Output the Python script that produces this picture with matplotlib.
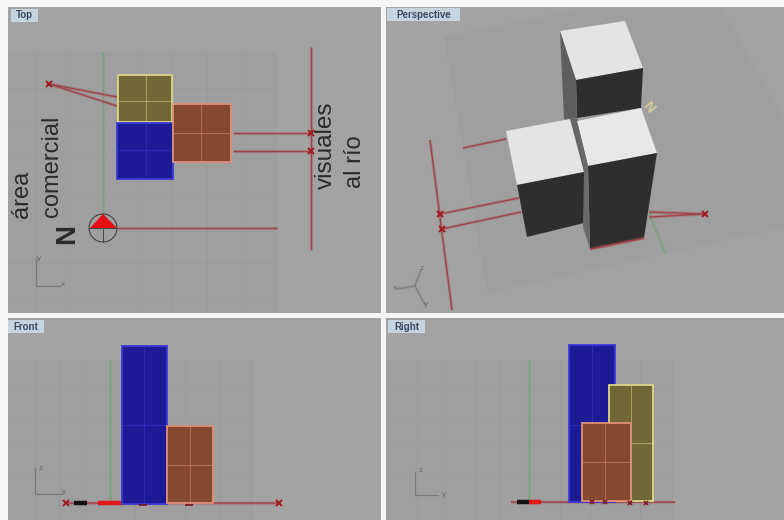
import matplotlib
matplotlib.use("Agg")
import matplotlib.pyplot as plt
from matplotlib.patches import Rectangle, Polygon, Circle
import matplotlib.patheffects as pe

plt.rcParams['font.family'] = ['Liberation Sans', 'DejaVu Sans']

BG = '#a3a3a3'; PLANE = '#9f9f9f'; GRID = '#9a9a9a'; RED = '#a0444a'; GREEN = '#7a9f7a'
BLUE = '#1c1a94'; BROWN = '#84492f'; OLIVE = '#6f6735'
E_BLUE = '#3a3ad8'; E_BROWN = '#e09078'; E_OLIVE = '#dcd68a'

# viewports: x0, y0, x1, y1
viewports = [(8, 7, 381, 313), (386, 7, 784, 313), (8, 318, 381, 520), (386, 318, 784, 520)]
view_labels = [("Top", 11, 9, 27), ("Perspective", 387, 8, 73), ("Front", 8, 320, 36), ("Right", 388, 320, 37)]

# Top view
top_plane = (8, 52, 277, 312)
top_grid_x = [35, 69, 138, 172, 207, 242]
top_grid_y = [88, 123, 158, 193, 263, 298]
top_rects = [(118, 75, 172, 122, OLIVE, E_OLIVE, 146, 101),
             (117, 123, 173, 179, BLUE, E_BLUE, 146, 150),
             (173, 104, 231, 162, BROWN, E_BROWN, 201, 133)]
top_lines = [((49, 84), (117, 97)), ((49, 84), (117, 106)), ((233, 133), (311, 133)),
             ((233, 151), (311, 151)), ((118, 228), (277, 228)), ((311.5, 47), (311.5, 250))]
top_marks = [(49, 84), (311, 133), (311, 151)]
top_green = ((103, 52), (103, 215))
top_texts = [("área", 22, 194, 17, 'normal'), ("comercial", 52, 166, 17, 'normal'),
             ("visuales", 326, 145, 17.5, 'normal'), ("al río", 355, 162, 17, 'normal'),
             ("N", 67, 234, 20, 'bold')]

# Perspective view
persp_plane = [(444, 37), (590, 7), (721, 7), (784, 120), (784, 227), (487, 293)]
persp_faces = [
    ([(560, 31), (625, 21), (643, 68), (576, 80)], '#e4e4e4'),
    ([(576, 80), (643, 68), (641, 108), (577, 118)], '#2e2e2e'),
    ([(560, 31), (576, 80), (577, 118), (564, 119)], '#5e5e5e'),
    ([(565, 119), (577, 118), (590, 170), (584, 172)], '#666666'),
    ([(506, 131), (570, 119), (584, 172), (517, 185)], '#e4e4e4'),
    ([(517, 185), (584, 172), (584, 223), (527, 237)], '#2e2e2e'),
    ([(577, 121), (641, 108), (657, 153), (588, 166)], '#e8e8e8'),
    ([(588, 166), (657, 153), (644, 238), (590, 249)], '#2e2e2e'),
    ([(577, 121), (588, 166), (590, 249), (583, 227), (584, 172)], '#6a6a6a'),
]
persp_lines = [((430, 140), (452, 310)), ((463, 148), (506, 139)), ((440, 214), (519, 198)),
               ((442, 229), (521, 212)), ((649, 212), (705, 214)), ((649, 217), (705, 214)),
               ((590, 249), (644, 238))]
persp_marks = [(440, 214), (442, 229), (705, 214)]
persp_green = ((649, 213), (665, 253))

# Front view
front_plane = (8, 360, 254, 520)
front_grid_x = [35, 60, 85, 135, 185, 220]
front_grid_y = [390, 418, 445, 475]
front_rects = [(122, 346, 167, 504, BLUE, E_BLUE, 144, 425),
               (167, 426, 213, 503, BROWN, E_BROWN, 190, 465)]
front_base = ((66, 503), (279, 503))
front_marks = [(66, 503), (279, 503)]
front_ticks = [(143, 505), (189, 505)]
front_green = ((110, 360), (110, 503))
front_bars = [(74, 87, '#111111'), (98, 123, '#e01818')]

# Right view
right_plane = (386, 360, 673, 520)
right_grid_x = [417, 445, 476, 500, 560, 590, 640]
right_grid_y = [390, 418, 445, 475]
right_rects = [(569, 345, 615, 502, BLUE, E_BLUE, 592, 425),
               (609, 385, 653, 501, OLIVE, E_OLIVE, 631, 443),
               (582, 423, 631, 501, BROWN, E_BROWN, 605, 462)]
right_base = ((511, 501.5), (675, 501.5))
right_marks = [(592, 502), (605, 502), (630, 503), (646, 503)]
right_green = ((529, 360), (529, 501))
right_bars = [(517, 529, '#111111'), (529, 541, '#e01818')]

# Axis icons: corner polyline and letters
icons = [([(36, 258), (36, 286), (60, 286)], [("y", 39, 259), ("x", 63, 285)]),
         ([(35, 468), (35, 494), (62, 494)], [("z", 41, 469), ("x", 64, 493)]),
         ([(415, 472), (415, 495), (438, 495)], [("z", 421, 470), ("y", 444, 494)])]
persp_icon = [((415, 286), (396, 289)), ((415, 286), (421, 270)), ((415, 286), (425, 305))]
persp_icon_text = [("x", 395, 289), ("z", 422, 268), ("y", 426, 305)]

fig = plt.figure(figsize=(7.84, 5.2), dpi=100, facecolor='#f6f6f6')
ax = fig.add_axes([0, 0, 1, 1])
ax.set_xlim(0, 784); ax.set_ylim(520, 0); ax.axis('off')


def line(p, q, c=RED, lw=1.0, z=3):
    l, = ax.plot([p[0], q[0]], [p[1], q[1]], color=c, lw=lw, zorder=z, solid_capstyle='butt')
    l.set_path_effects([pe.Stroke(linewidth=lw + 1.4, foreground=c, alpha=0.25), pe.Normal()])


def rect(r, z):
    x0, y0, x1, y1, fc, ec, gx, gy = r
    ax.add_patch(Rectangle((x0, y0), x1 - x0, y1 - y0, fc=fc, ec=ec, lw=1.3, zorder=z))
    ax.plot([gx, gx], [y0, y1], color=ec, lw=0.8, alpha=0.5, zorder=z + .1)
    ax.plot([x0, x1], [gy, gy], color=ec, lw=0.8, alpha=0.5, zorder=z + .1)


def plane(p, gx, gy):
    x0, y0, x1, y1 = p
    ax.add_patch(Rectangle((x0, y0), x1 - x0, y1 - y0, fc=PLANE, ec='none', zorder=1))
    ax.vlines(gx, y0, y1, color=GRID, lw=0.7, zorder=1.1)
    ax.hlines(gy, x0, x1, color=GRID, lw=0.7, zorder=1.1)


for x0, y0, x1, y1 in viewports:
    ax.add_patch(Rectangle((x0, y0), x1 - x0, y1 - y0, fc=BG, ec='none', zorder=0))

plane(top_plane, top_grid_x, top_grid_y)
plane(front_plane, front_grid_x, front_grid_y)
plane(right_plane, right_grid_x, right_grid_y)
ax.add_patch(Polygon(persp_plane, fc=PLANE, ec='none', zorder=1))

# Top view
line(*top_green, c=GREEN)
for i, r in enumerate(top_rects):
    rect(r, 4 + i)
for p, q in top_lines:
    line(p, q)
ax.plot(*zip(*top_marks), 'x', color='#a01a22', ms=5, mew=1.4, zorder=6)
ax.add_patch(Circle((103, 228), 14, fc='none', ec='#444444', lw=0.8, zorder=6))
ax.plot([103, 103], [214, 242], color='#444444', lw=0.7, zorder=6)
ax.plot([89, 117], [228, 228], color='#444444', lw=0.7, zorder=6)
ax.add_patch(Polygon([(90, 228), (103, 214), (117, 228)], fc='#e30d12', ec='none', zorder=7))
for s, x, y, fs, w in top_texts:
    ax.text(x, y, s, rotation=90, fontsize=fs, fontweight=w, color='#2a2a2a', ha='center', va='center', zorder=8)

# Perspective view
line(*persp_green, c=GREEN)
for p, q in persp_lines:
    line(p, q)
for pts, c in persp_faces:
    ax.add_patch(Polygon(pts, fc=c, ec='none', zorder=5))
line(*persp_lines[-1], z=6)
ax.plot(*zip(*persp_marks), 'x', color='#a01a22', ms=5, mew=1.4, zorder=6)
ax.text(648, 107, "N", rotation=-50, fontsize=10, fontweight='bold', color='#d8cc98', ha='center', va='center', zorder=6)
for p, q in persp_icon:
    line(p, q, c='#7a7a7a', lw=0.7)
for s, x, y in persp_icon_text:
    ax.text(x, y, s, fontsize=6, color='#6a6a6a', ha='center', va='center', zorder=6)

# Front view
line(*front_green, c=GREEN)
line(*front_base, lw=1.1)
for x0, x1, c in front_bars:
    ax.plot([x0, x1], [503, 503], color=c, lw=3.2, zorder=4, solid_capstyle='butt')
for i, r in enumerate(front_rects):
    rect(r, 5 + i)
ax.plot(*zip(*front_marks), 'x', color='#a01a22', ms=5, mew=1.4, zorder=4)
ax.plot(*zip(*front_ticks), '_', color='#7a1a20', ms=6, mew=1.3, zorder=8)

# Right view
line(*right_green, c=GREEN)
line(*right_base, lw=1.1)
for x0, x1, c in right_bars:
    ax.plot([x0, x1], [501.5, 501.5], color=c, lw=3.2, zorder=4, solid_capstyle='butt')
for i, r in enumerate(right_rects):
    rect(r, 5 + i)
ax.plot(*zip(*right_marks), 'x', color='#7a1a20', ms=3.5, mew=1.2, zorder=8)

for pts, letters in icons:
    ax.plot(*zip(*pts), color='#7a7a7a', lw=0.9, zorder=2)
    for s, x, y in letters:
        ax.text(x, y, s, fontsize=6, color='#6a6a6a', ha='center', va='center', zorder=2)

for s, x, y, w in view_labels:
    ax.add_patch(Rectangle((x, y), w, 13, fc='#c6d4e0', ec='none', zorder=9))
    ax.text(x + w / 2, y + 6.5, s, fontsize=7, fontweight='bold', color='#3b4a60', ha='center', va='center', zorder=10)

fig.savefig("out.png", dpi=100, facecolor=fig.get_facecolor())
